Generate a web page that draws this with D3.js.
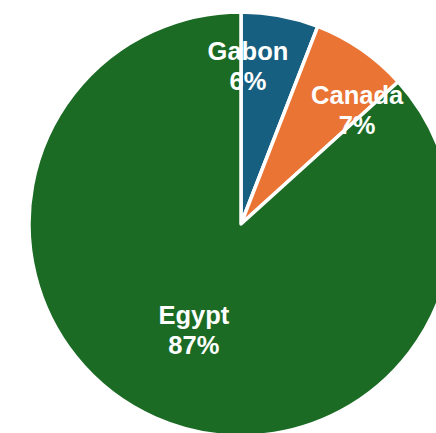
<!DOCTYPE html>
<html>
<head>
<meta charset="utf-8">
<script src="https://cdn.jsdelivr.net/npm/d3@7"></script>
<style>
  html, body { margin: 0; padding: 0; background: #ffffff; overflow: hidden; }
  svg { display: block; }
</style>
</head>
<body>
<svg id="chart" width="436" height="433"></svg>
<script>
// ---- data ----
const categories = ["Gabon", "Canada", "Egypt"];
const values = [5.9, 7.4, 86.7];
const percentLabels = ["6%", "7%", "87%"];
const colors = ["#175f80", "#ea7434", "#1b6b25"];

// ---- layout (label placement tweaks, in degrees / fraction of radius) ----
const labelAngleShift = [-8.1, 11, 0];
const labelRadiusFrac = [0.745, 0.767, 0.548];

const W = 436, H = 433;
const cx = 241, cy = 224, R = 212;

const svg = d3.select("#chart");
const g = svg.append("g").attr("transform", `translate(${cx},${cy})`);

const data = categories.map((c, i) => ({ name: c, value: values[i], pct: percentLabels[i], color: colors[i], i }));

const pie = d3.pie().value(d => d.value).sort(null);
const arc = d3.arc().innerRadius(0).outerRadius(R);
const arcs = pie(data);

g.selectAll("path.slice")
  .data(arcs)
  .join("path")
  .attr("class", "slice")
  .attr("d", arc)
  .attr("fill", d => d.data.color)
  .attr("stroke", "#ffffff")
  .attr("stroke-width", 3.5)
  .attr("stroke-linejoin", "round");

const fs = 25.5;
const labels = g.selectAll("text.lbl")
  .data(arcs)
  .join("text")
  .attr("class", "lbl")
  .attr("text-anchor", "middle")
  .attr("fill", "#ffffff")
  .attr("font-family", "Liberation Sans, Arial, sans-serif")
  .attr("font-weight", "bold")
  .attr("font-size", fs + "px")
  .attr("transform", d => {
    const i = d.data.i;
    const a = (d.startAngle + d.endAngle) / 2 + labelAngleShift[i] * Math.PI / 180;
    const r = R * labelRadiusFrac[i];
    return `translate(${r * Math.sin(a)},${-r * Math.cos(a)})`;
  });

labels.append("tspan")
  .attr("x", 0)
  .attr("y", -6)
  .text(d => d.data.name);
labels.append("tspan")
  .attr("x", 0)
  .attr("y", 24)
  .text(d => d.data.pct);
</script>
</body>
</html>
